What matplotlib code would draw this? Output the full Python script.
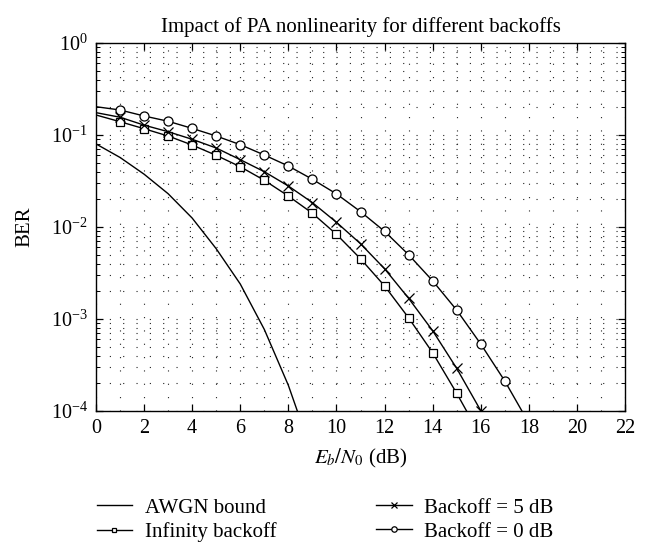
import numpy as np
import matplotlib
matplotlib.use('Agg')
import matplotlib.pyplot as plt
from matplotlib.ticker import MultipleLocator, LogLocator, NullFormatter

plt.rcParams['font.family'] = ['Liberation Serif', 'DejaVu Serif']
plt.rcParams['mathtext.fontset'] = 'stix'

# AWGN bound
ebn0_awgn = [0, 1, 2, 3, 4, 5, 6, 7, 8, 9]
ber_awgn = [0.080, 0.057, 0.0375, 0.023, 0.0125, 0.0058, 0.0024, 0.00077, 0.00019, 0.000034]

# lines start at 0 dB, markers from 1 dB on
ebn0_inf = [0, 1, 2, 3, 4, 5, 6, 7, 8, 9, 10, 11, 12, 13, 14, 15, 16]
ber_inf = [0.165, 0.1395, 0.117, 0.0975, 0.0778, 0.0601, 0.0452, 0.0322, 0.0217,
           0.0141, 0.00833, 0.00452, 0.00229, 0.00103, 0.00043, 0.000156, 0.000053]

ebn0_b5 = [0, 1, 2, 3, 4, 5, 6, 7, 8, 9, 10, 11, 12, 13, 14, 15, 16]
ber_b5 = [0.175, 0.156, 0.128, 0.1086, 0.0898, 0.0722, 0.0539, 0.0399, 0.0279,
          0.0184, 0.01125, 0.00658, 0.00352, 0.00168, 0.000746, 0.000291, 0.000101]

ebn0_b0 = [0, 1, 2, 3, 4, 5, 6, 7, 8, 9, 10, 11, 12, 13, 14, 15, 16, 17, 18]
ber_b0 = [0.203, 0.187, 0.161, 0.141, 0.118, 0.0975, 0.0785, 0.0606, 0.046, 0.033,
          0.0229, 0.0147, 0.00898, 0.0050, 0.0026, 0.00125, 0.000535, 0.000212, 0.000074]

fig = plt.figure(figsize=(6.49, 5.46), dpi=100)
ax = fig.add_axes([96 / 649, 1 - 411 / 546, 529 / 649, 368 / 546])

k = dict(color='black', lw=1.0, mfc='white', mec='black', mew=0.9)
h1, = ax.semilogy(ebn0_awgn, ber_awgn, '-', color='black', lw=1.0, label='AWGN bound')
h2, = ax.semilogy(ebn0_inf, ber_inf, '-', marker='s', ms=5.5, markevery=slice(1, 16),
                  label='Infinity backoff', **k)
h3, = ax.semilogy(ebn0_b5, ber_b5, '-', marker='x', ms=7, markevery=slice(1, 17),
                  label='Backoff = 5 dB', **k)
h4, = ax.semilogy(ebn0_b0, ber_b0, '-', marker='o', ms=6.5, markevery=slice(1, 18),
                  label='Backoff = 0 dB', **k)

ax.set_xlim(0, 22)
ax.set_ylim(1e-4, 1)
ax.xaxis.set_major_locator(MultipleLocator(2))
ax.xaxis.set_minor_locator(MultipleLocator(1))
ax.yaxis.set_major_locator(LogLocator(base=10, numticks=10))
ax.yaxis.set_minor_locator(LogLocator(base=10, subs=np.arange(2, 10), numticks=20))
ax.yaxis.set_minor_formatter(NullFormatter())

# sparse dotted grid like the original
grid = dict(color='#222222', linestyle=(0, (1, 11)), lw=0.8)
ax.grid(True, which='both', **grid)

ax.tick_params(which='both', direction='in', top=True, right=True, labelsize=14.5)
ax.tick_params(which='major', length=5, width=0.9, pad=6)
ax.tick_params(axis='x', which='minor', length=0)
ax.tick_params(axis='y', which='minor', length=3, width=0.7)
for s in ax.spines.values():
    s.set_linewidth(1.0)

ax.set_title('Impact of PA nonlinearity for different backoffs', fontsize=15, pad=8)
ax.set_xlabel(r'$E_b/N_0$ (dB)', fontsize=15, labelpad=6)
ax.set_ylabel('BER', fontsize=15, labelpad=12)

fig.legend([h1, h2, h3, h4],
           ['AWGN bound', 'Infinity backoff', 'Backoff = 5 dB', 'Backoff = 0 dB'],
           ncol=2, frameon=False, fontsize=15, loc='center left',
           bbox_to_anchor=(78 / 649, 1 - 520 / 546), handlelength=1.7,
           markerscale=0.6, columnspacing=4.8, labelspacing=0.2,
           handletextpad=0.6)

fig.savefig('out.png', dpi=100)
